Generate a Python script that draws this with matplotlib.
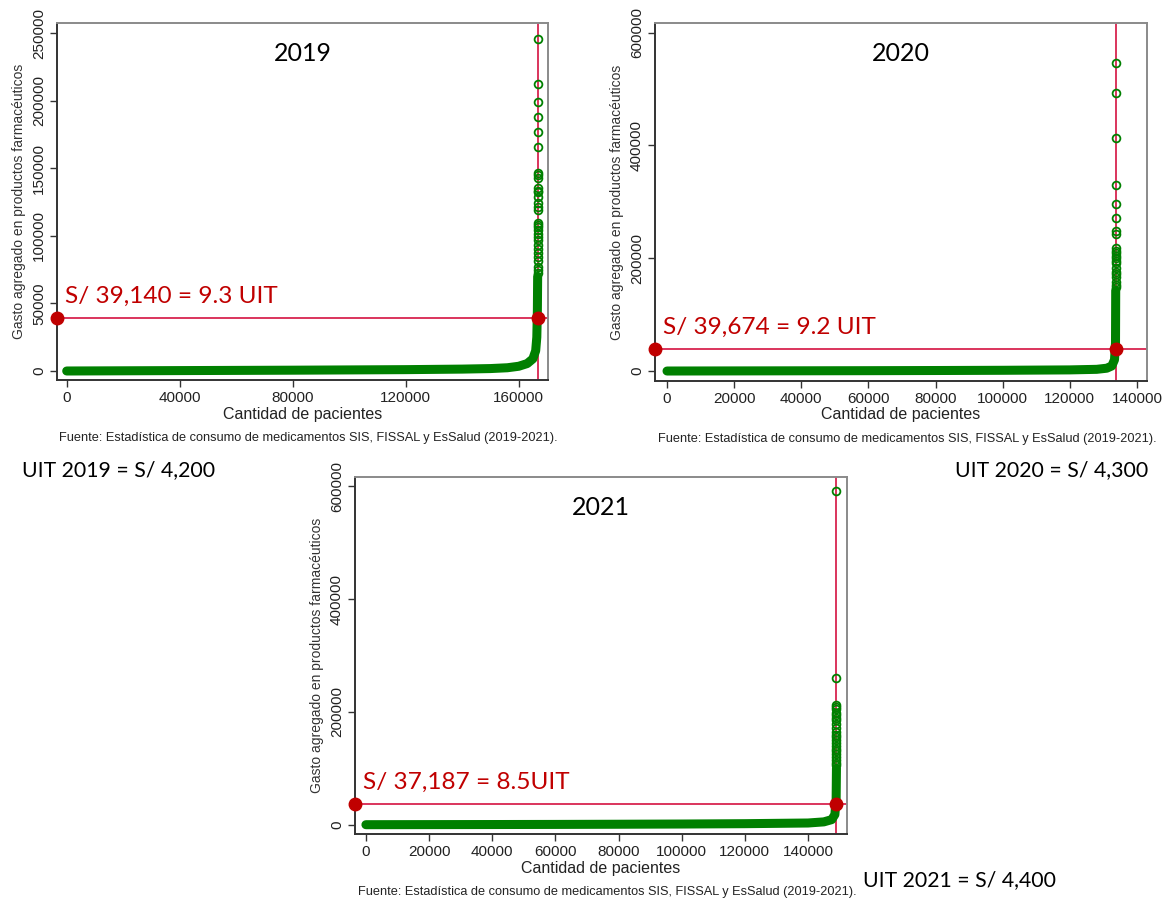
import numpy as np
import matplotlib
matplotlib.use("Agg")
import matplotlib.pyplot as plt

# ---------------- data ----------------
years = ["2019", "2020", "2021"]
n_pacientes = [166700, 133660, 149000]
umbral = [39140, 39674, 37187]
umbral_txt = ["S/ 39,140 = 9.3 UIT", "S/ 39,674 = 9.2 UIT", "S/ 37,187 = 8.5UIT"]
uit_txt = ["UIT 2019 = S/ 4,200", "UIT 2020 = S/ 4,300", "UIT 2021 = S/ 4,400"]

# dense part of the sorted curve (rank, spending)
curva2019_x = [0, 20000, 40000, 60000, 80000, 100000, 120000, 140000, 150000, 156000,
               160000, 163000, 165000, 166000, 166400, 166600, 166700]
curva2019_y = [0, 150, 300, 450, 600, 800, 1000, 1400, 1800, 2400,
               3500, 5500, 9000, 15000, 25000, 45000, 70000]
curva2020_x = [0, 20000, 40000, 60000, 80000, 100000, 120000, 128000, 131000, 132500,
               133300, 133600, 133660]
curva2020_y = [0, 200, 400, 600, 900, 1300, 2000, 3000, 5000, 9000,
               20000, 50000, 143000]
curva2021_x = [0, 20000, 40000, 60000, 80000, 100000, 120000, 140000, 145000, 147500,
               148500, 148900, 149000]
curva2021_y = [0, 150, 300, 500, 800, 1200, 1800, 3000, 5000, 9000,
               18000, 45000, 100000]

# isolated high-spending patients (top of the ranking)
gasto2019_top = [245300, 212300, 198800, 187700, 176800, 165500, 146800, 145000, 142400,
                 135700, 133500, 132500, 128800, 123900, 121500, 119000, 109600, 108000,
                 106600, 104000, 101700, 99000, 96800, 93000, 90600, 87000, 84500, 81000,
                 77100, 75000, 72200]
gasto2020_top = [546900, 492500, 413200, 329300, 295600, 270800, 248300, 242400, 217600,
                 212000, 208700, 204000, 199800, 195000, 191000, 182100, 176000, 172000,
                 166000, 158400, 153000, 149600]
gasto2021_top = [592400, 259500, 212800, 208700, 205100, 199000, 194000, 189000, 185000,
                 178000, 170900, 165000, 159600, 155500, 150700, 144800, 140000, 135000,
                 130000, 125000, 120000, 115000, 110000, 105000]

xticks2019 = [0, 40000, 80000, 120000, 160000]
yticks2019 = [0, 50000, 100000, 150000, 200000, 250000]
xticks2020 = [0, 20000, 40000, 60000, 80000, 100000, 120000, 140000]
yticks2020 = [0, 200000, 400000, 600000]
xticks2021 = xticks2020
yticks2021 = yticks2020

curvas_x = [curva2019_x, curva2020_x, curva2021_x]
curvas_y = [curva2019_y, curva2020_y, curva2021_y]
tops = [gasto2019_top, gasto2020_top, gasto2021_top]
xticks = [xticks2019, xticks2020, xticks2021]
yticks = [yticks2019, yticks2020, yticks2021]

# ---------------- layout ----------------
W, H = 1174, 898
fig = plt.figure(figsize=(W / 100, H / 100), dpi=100)

def box(l, t, r, b):
    return [l / W, 1 - b / H, (r - l) / W, (b - t) / H]

axes_px = [(57, 23, 548, 380), (655, 23, 1147, 381), (355, 477, 847, 834)]
xlims = [(-3430, 170360), (-3575, 142980), (-3450, 152340)]
ylims = [(-6660, 257400), (-17700, 617200), (-16500, 616700)]

SANS = "Liberation Sans"
CAL = "Lato"
GREEN = "#008000"
RED_LINE = "#D8244F"
RED_DOT = "#C00000"
RED_TXT = "#C00000"

for i in range(3):
    ax = fig.add_axes(box(*axes_px[i]))
    ax.set_xlim(*xlims[i])
    ax.set_ylim(*ylims[i])
    n = n_pacientes[i]
    u = umbral[i]
    # reference lines
    ax.axhline(u, color=RED_LINE, lw=1.3, zorder=1)
    ax.axvline(n, color=RED_LINE, lw=1.3, zorder=1)
    # dense curve
    ax.plot(curvas_x[i], curvas_y[i], color=GREEN, lw=6.5, solid_capstyle="round",
            solid_joinstyle="round", zorder=2)
    # outliers
    top = tops[i]
    ax.plot(np.full(len(top), n), top, linestyle="none", marker="o", ms=5.6,
            mfc="none", mec=GREEN, mew=1.3, zorder=3)
    # red dots
    ax.plot([xlims[i][0], n], [u, u], linestyle="none", marker="o", ms=9,
            color=RED_DOT, zorder=5, clip_on=False)
    # texts inside
    ax.text(0.5, 0.915, years[i], transform=ax.transAxes, ha="center", va="center",
            fontsize=18, family=CAL, color="black")
    ax.text(0.017, (u - ylims[i][0]) / (ylims[i][1] - ylims[i][0]) + 0.06, umbral_txt[i],
            transform=ax.transAxes, ha="left", va="center", fontsize=17.6, family=CAL,
            color=RED_TXT)
    # ticks
    ax.set_xticks(xticks[i])
    ax.set_yticks(yticks[i])
    ax.set_xticklabels([str(v) for v in xticks[i]], fontsize=11, family=SANS)
    ax.set_yticklabels([str(v) for v in yticks[i]], fontsize=11, family=SANS,
                       rotation=90, va="center")
    ax.tick_params(direction="out", length=5, width=1, color="#333333", pad=3,
                   labelcolor="#222222")
    for s in ["left", "bottom"]:
        ax.spines[s].set_color("#333333")
        ax.spines[s].set_linewidth(1.4)
    for s in ["top", "right"]:
        ax.spines[s].set_color("#8a8a8a")
        ax.spines[s].set_linewidth(1.4)
    ax.set_xlabel("Cantidad de pacientes", fontsize=11.5, family=SANS, labelpad=1,
                  color="#222222")
    ax.set_ylabel("Gasto agregado en productos farmacéuticos", fontsize=10, family=SANS,
                  labelpad=4, color="#333333")
    l, t, r, b = axes_px[i]
    fig.text(((l + r) / 2 + 6) / W, 1 - (b + 58) / H,
             "Fuente: Estadística de consumo de medicamentos SIS, FISSAL y EsSalud (2019-2021).",
             ha="center", va="center", fontsize=9.2, family=SANS, color="#222222")

# UIT notes
fig.text(22 / W, 1 - 470 / H, uit_txt[0], ha="left", va="center", fontsize=15.3, family=CAL)
fig.text(1148 / W, 1 - 470 / H, uit_txt[1], ha="right", va="center", fontsize=15.3, family=CAL)
fig.text(863 / W, 1 - 880 / H, uit_txt[2], ha="left", va="center", fontsize=15.3, family=CAL)

fig.savefig("out.png", dpi=100)
